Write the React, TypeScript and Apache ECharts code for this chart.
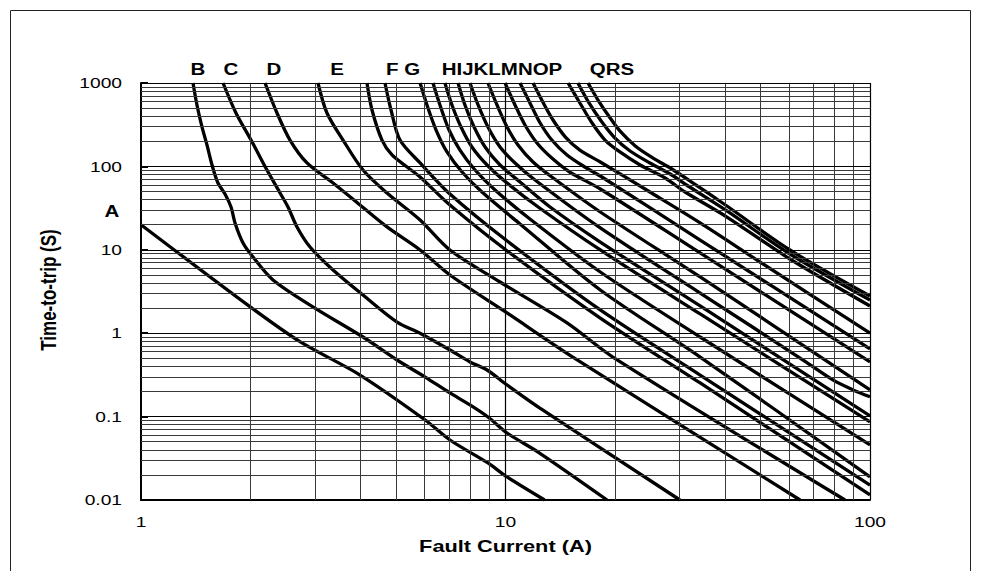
import React, { useEffect, useRef } from "react";
import * as echarts from "echarts";

// ---- grid / ticks ----
const xMajorLines = [10, 100];
const xMinorLines = [2, 3, 4, 5, 6, 7, 8, 9, 20, 30, 40, 50, 60, 70, 80, 90];
const yMajorLines = [0.1, 1, 10, 100, 1000];
const yMinorLines = [
  0.02, 0.03, 0.04, 0.05, 0.06, 0.07, 0.08, 0.09,
  0.2, 0.3, 0.4, 0.5, 0.6, 0.7, 0.8, 0.9,
  2, 3, 4, 5, 6, 7, 8, 9,
  20, 30, 40, 50, 60, 70, 80, 90,
  200, 300, 400, 500, 600, 700, 800, 900,
];
const xTickValues = [1, 10, 100];
const xTickLabels = ["1", "10", "100"];
const yTickValues = [1000, 100, 10, 1, 0.1, 0.01];
const yTickLabels = ["1000", "100", "10", "1", "0.1", "0.01"];

// ---- curve labels ----
const topLabelTexts = ["B", "C", "D", "E", "F G", "HIJKLMNOP", "QRS"];
const sideLabelText = "A";
const xAxisTitle = "Fault Current (A)";
const yAxisTitle = "Time-to-trip (S)";

// ---- curves: [current (A), time (s)] ----
const curveA = [[1, 20], [1.99, 2.08], [2.73, 0.791], [3.99, 0.315], [6.02, 0.0911], [7.04, 0.0524], [8.95, 0.0278], [10.1, 0.0189], [12.8, 0.01]];
const curveB = [[1.389, 1000], [1.424, 545], [1.47, 297], [1.517, 181], [1.566, 104], [1.626, 63.2], [1.7, 46.7], [1.766, 32.6], [1.811, 21.0], [1.905, 12.1], [2.029, 8.2], [2.302, 4.35], [3.0, 2.0], [4.065, 0.9], [5.04, 0.477], [6.02, 0.298], [7.04, 0.192], [7.99, 0.138], [8.95, 0.0989], [10.1, 0.0636], [12.4, 0.0366], [19.0, 0.01]];
const curveC = [[1.679, 1000], [1.822, 437], [2.004, 207], [2.216, 90.5], [2.407, 48.0], [2.531, 32.6], [2.679, 18.8], [2.909, 10.8], [3.364, 5.73], [4.065, 2.87], [5.04, 1.36], [5.83, 1.0], [7.04, 0.629], [7.99, 0.452], [8.9, 0.362], [10.1, 0.239], [12.4, 0.127], [30.1, 0.01]];
const curveD = [[2.189, 1000], [2.361, 437], [2.563, 207], [2.854, 110], [3.364, 63.2], [3.99, 34.4], [4.73, 18.8], [5.83, 9.95], [7.04, 4.99], [10.1, 1.75], [15.3, 0.518], [64.3, 0.01]];
const curveE = [[3.059, 1000], [3.237, 437], [3.583, 207], [4.065, 90.5], [4.73, 48.0], [5.83, 22.8], [7.04, 9.95], [9.66, 4.11], [14.75, 1.33], [19.7, 0.518], [85.4, 0.01]];
const curveF = [[4.169, 1000], [4.303, 475], [4.583, 207], [4.883, 137], [5.37, 98.4], [5.83, 74.6], [7.04, 34.4], [10.03, 9.95], [18.2, 1.52], [34.2, 0.253], [100, 0.0115]];
const curveG = [[4.67, 1000], [4.852, 475], [5.135, 207], [5.83, 110], [7.04, 46.7], [10.03, 13.1], [18.2, 1.9], [34.2, 0.315], [100, 0.0151]];
const curveH = [[5.83, 1000], [6.09, 545], [6.45, 273], [6.91, 149], [7.6, 85.7], [8.62, 49.3], [10.96, 20.4], [18.2, 3.3], [34.2, 0.518], [100, 0.0189]];
const curveI = [[6.325, 1000], [6.61, 545], [7.0, 273], [7.5, 157], [8.25, 90.5], [9.36, 52.1], [11.67, 23.4], [18.2, 5.42], [34.2, 0.9], [100, 0.0457]];
const curveJ = [[6.82, 1000], [7.13, 545], [7.55, 297], [8.09, 171], [8.9, 104], [10.1, 63.2], [12.4, 31.7], [18.2, 9.95], [34.2, 1.7], [100, 0.0862]];
const curveK = [[7.41, 1000], [7.74, 545], [8.2, 297], [8.79, 171], [9.66, 104], [10.96, 65.0], [13.25, 32.6], [18.2, 12.4], [34.2, 2.12], [100, 0.102]];
const curveL = [[7.99, 1000], [8.41, 545], [8.95, 297], [9.66, 171], [10.62, 110], [12.05, 68.7], [18.2, 18.3], [34.2, 3.03], [64.3, 0.504], [79.1, 0.275], [89.8, 0.209], [100, 0.173]];
const curveM = [[8.95, 1000], [9.48, 545], [10.1, 297], [10.82, 181], [11.9, 113], [13.4, 74.6], [18.2, 28.4], [34.2, 4.72], [100, 0.209]];
const curveN = [[9.97, 1000], [10.62, 545], [11.31, 314], [12.2, 191], [13.4, 126], [15.0, 85.7], [18.2, 53.6], [34.2, 9.16], [100, 0.452]];
const curveO = [[10.96, 1000], [11.67, 576], [12.4, 341], [13.4, 207], [14.75, 137], [16.5, 98.4], [18.2, 76.7], [34.2, 13.1], [100, 0.647]];
const curveP = [[11.9, 1000], [12.7, 576], [13.5, 360], [14.6, 225], [16.0, 157], [18.2, 113], [24.9, 49.3], [34.2, 21.0], [49.9, 7.14], [100, 1.0]];
const curveQ = [[14.85, 1000], [16.0, 576], [17.28, 331], [18.75, 207], [20.6, 149], [23.4, 104], [27.4, 72.6], [31.1, 49.3], [40.5, 24.7], [60.3, 7.76], [100, 2.12]];
const curveR = [[15.8, 1000], [16.95, 576], [18.3, 350], [19.85, 225], [21.96, 153], [24.9, 110], [28.3, 81.1], [31.7, 58.2], [40.5, 29.2], [60.3, 8.91], [100, 2.5]];
const curveS = [[16.84, 1000], [17.94, 625], [19.2, 402], [20.6, 266], [22.7, 176], [25.4, 126], [28.6, 93.1], [32.1, 66.8], [40.5, 33.5], [60.3, 9.95], [100, 2.79]];

const curves: [string, number[][]][] = [
  ["A", curveA], ["B", curveB], ["C", curveC], ["D", curveD], ["E", curveE],
  ["F", curveF], ["G", curveG], ["H", curveH], ["I", curveI], ["J", curveJ],
  ["K", curveK], ["L", curveL], ["M", curveM], ["N", curveN], ["O", curveO],
  ["P", curveP], ["Q", curveQ], ["R", curveR], ["S", curveS],
];

// ---- layout (pixels) ----
const GRID = { left: 141, top: 83, width: 729, height: 417 };
const topLabelX = [198, 231, 274, 337, 403, 502, 612];
const topLabelY = 69;
const sideLabelPos = [112, 211];
const STRETCH = 1.28;
const FONT = '"Liberation Sans", Arial, sans-serif';

export default function App() {
  const ref = useRef<HTMLDivElement>(null);

  useEffect(() => {
    const el = ref.current;
    if (!el) return;
    const chart = echarts.init(el, null, { renderer: "svg" });

    const gridData: any[] = [
      ...xMinorLines.map((v) => ({ xAxis: v, lineStyle: { color: "#3a3a3a", width: 1 } })),
      ...yMinorLines.map((v) => ({ yAxis: v, lineStyle: { color: "#3a3a3a", width: 1 } })),
      ...xMajorLines.map((v) => ({ xAxis: v, lineStyle: { color: "#000", width: 1.2 } })),
      ...yMajorLines.map((v) => ({ yAxis: v, lineStyle: { color: "#000", width: 1.2 } })),
    ];

    const series: any[] = [
      {
        type: "line",
        data: [[1, 1000]],
        symbol: "none",
        silent: true,
        z: 1,
        lineStyle: { opacity: 0 },
        markLine: {
          silent: true,
          animation: false,
          symbol: ["none", "none"],
          label: { show: false },
          emphasis: { disabled: true },
          lineStyle: { type: "solid", color: "#3a3a3a", width: 1 },
          data: gridData,
        },
      },
      ...curves.map(([name, data]) => ({
        type: "line",
        name,
        data,
        symbol: "none",
        showSymbol: false,
        smooth: 0.3,
        silent: true,
        z: 3,
        lineStyle: { color: "#000", width: 3.3 },
      })),
    ];

    chart.setOption({
      animation: false,
      backgroundColor: "#fff",
      grid: { ...GRID, containLabel: false },
      xAxis: {
        type: "log",
        logBase: 10,
        min: 1,
        max: 100,
        axisLine: { show: true, onZero: false, lineStyle: { color: "#000", width: 2 } },
        axisTick: { show: false },
        axisLabel: { show: false },
        splitLine: { show: false },
        minorTick: { show: false },
      },
      yAxis: {
        type: "log",
        logBase: 10,
        min: 0.01,
        max: 1000,
        axisLine: { show: true, onZero: false, lineStyle: { color: "#000", width: 2 } },
        axisTick: { show: true, inside: true, length: 7, lineStyle: { color: "#000", width: 2 } },
        axisLabel: { show: false },
        splitLine: { show: false },
      },
      series,
    });

    const px = (v: number) => chart.convertToPixel({ xAxisIndex: 0 }, v) as number;
    const py = (v: number) => chart.convertToPixel({ yAxisIndex: 0 }, v) as number;
    const x0 = px(1);
    const yBottom = py(0.01);

    const texts: any[] = [];
    texts.push({
      type: "rect",
      silent: true,
      shape: { x: 10.5, y: 10.5, width: 960, height: 620 },
      style: { fill: "none", stroke: "#222", lineWidth: 1 },
      z: 0,
    });
    yTickValues.forEach((v, i) => {
      texts.push({
        type: "text",
        x: x0 - 19,
        y: py(v),
        scaleX: STRETCH,
        style: { text: yTickLabels[i], fontSize: 15, fontFamily: FONT, fill: "#000", align: "right", verticalAlign: "middle" },
      });
    });
    xTickValues.forEach((v, i) => {
      texts.push({
        type: "text",
        x: px(v),
        y: yBottom + 22,
        scaleX: STRETCH,
        style: { text: xTickLabels[i], fontSize: 15, fontFamily: FONT, fill: "#000", align: "center", verticalAlign: "middle" },
      });
    });
    topLabelTexts.forEach((t, i) => {
      texts.push({
        type: "text",
        x: topLabelX[i],
        y: topLabelY,
        scaleX: STRETCH,
        style: { text: t, fontSize: 16, fontWeight: "bold", fontFamily: FONT, fill: "#000", align: "center", verticalAlign: "middle" },
      });
    });
    texts.push({
      type: "text",
      x: sideLabelPos[0],
      y: sideLabelPos[1],
      scaleX: STRETCH,
      style: { text: sideLabelText, fontSize: 16, fontWeight: "bold", fontFamily: FONT, fill: "#000", align: "center", verticalAlign: "middle" },
    });
    texts.push({
      type: "text",
      x: (px(1) + px(100)) / 2,
      y: yBottom + 46,
      scaleX: STRETCH,
      style: { text: xAxisTitle, fontSize: 17, fontWeight: "bold", fontFamily: FONT, fill: "#000", align: "center", verticalAlign: "middle" },
    });
    texts.push({
      type: "text",
      x: 48,
      y: 290,
      rotation: Math.PI / 2,
      scaleY: STRETCH,
      style: { text: yAxisTitle, fontSize: 17, fontWeight: "bold", fontFamily: FONT, fill: "#000", align: "center", verticalAlign: "middle" },
    });

    chart.setOption({ graphic: texts });

    return () => {
      chart.dispose();
    };
  }, []);

  return (
    <div
      ref={ref}
      style={{ position: "absolute", left: 0, top: 0, width: 982, height: 571, overflow: "hidden" }}
    />
  );
}
